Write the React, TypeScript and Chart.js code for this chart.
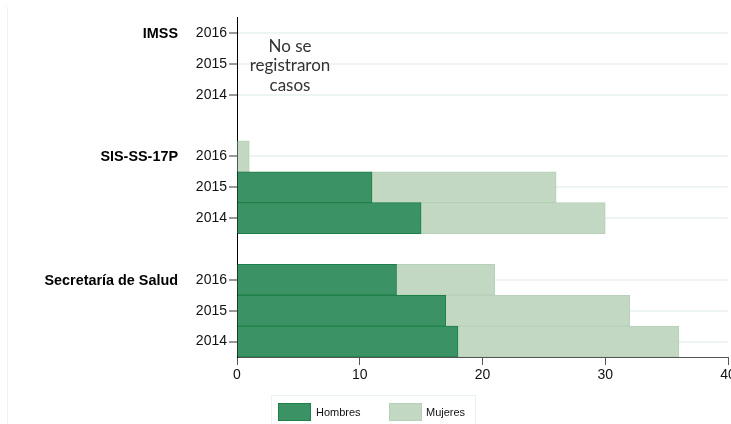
import React, { useEffect, useRef } from "react";
import { Chart, registerables } from "chart.js";

Chart.register(...registerables);

const institutions = ["IMSS", "SIS-SS-17P", "Secretaría de Salud"];
const years = ["2016", "2015", "2014"];
// values per institution, in order of years (2016, 2015, 2014)
const hombres = [
  [null, null, null],
  [0, 11, 15],
  [13, 17, 18],
];
const mujeres = [
  [null, null, null],
  [1, 15, 15],
  [8, 15, 18],
];
const xTicks = [0, 10, 20, 30, 40];
const noDataNote = ["No se", "registraron", "casos"];

const FONT = "'Liberation Sans', Arial, sans-serif";

export default function App() {
  const ref = useRef<HTMLCanvasElement>(null);

  useEffect(() => {
    const labels: string[] = [];
    const groupOf: (number | null)[] = [];
    const h: (number | null)[] = [];
    const m: (number | null)[] = [];
    institutions.forEach((inst, i) => {
      years.forEach((y, j) => {
        labels.push(y);
        groupOf.push(j === 0 ? i : null);
        h.push(hombres[i][j]);
        m.push(mujeres[i][j]);
      });
      if (i < institutions.length - 1) {
        labels.push("");
        groupOf.push(null);
        h.push(null);
        m.push(null);
      }
    });

    const overlay = {
      id: "overlay",
      afterDraw(chart: any) {
        const ctx = chart.ctx;
        const yScale = chart.scales.y;
        const area = chart.chartArea;
        ctx.save();
        // faint frame line
        ctx.strokeStyle = "#f0f0f0";
        ctx.lineWidth = 1;
        ctx.beginPath();
        ctx.moveTo(7.5, 7);
        ctx.lineTo(7.5, 424);
        ctx.stroke();
        // group labels
        ctx.fillStyle = "#000";
        ctx.font = `bold 14.4px ${FONT}`;
        ctx.textAlign = "right";
        ctx.textBaseline = "middle";
        groupOf.forEach((g, idx) => {
          if (g !== null) {
            ctx.fillText(institutions[g], 178, yScale.getPixelForValue(idx) + 1);
          }
        });
        // no-data note
        ctx.fillStyle = "#333";
        ctx.font = `17px Lato, 'Open Sans', sans-serif`;
        ctx.textAlign = "center";
        const cy = yScale.getPixelForValue(1);
        noDataNote.forEach((t, k) => {
          ctx.fillText(t, area.left + 53, cy + (k - 1) * 19.5 + 2);
        });
        // legend
        const ds = chart.data.datasets;
        ctx.strokeStyle = "#eaf1f2";
        ctx.lineWidth = 1;
        ctx.strokeRect(271.5, 395.5, 204, 40);
        const items = [
          { x: 278, tx: 316 },
          { x: 389, tx: 426 },
        ];
        ds.forEach((d: any, k: number) => {
          const it = items[k];
          ctx.fillStyle = d.backgroundColor;
          ctx.fillRect(it.x, 403, 33, 18);
          ctx.strokeStyle = d.borderColor;
          ctx.strokeRect(it.x + 0.5, 403.5, 32, 17);
          ctx.fillStyle = "#111";
          ctx.font = `11px ${FONT}`;
          ctx.textAlign = "left";
          ctx.textBaseline = "middle";
          ctx.fillText(d.label, it.tx, 413);
        });
        ctx.restore();
      },
    };

    const chart = new Chart(ref.current!, {
      type: "bar",
      data: {
        labels,
        datasets: [
          {
            label: "Hombres",
            data: h,
            backgroundColor: "#3b9264",
            borderColor: "#1f7f48",
            borderWidth: 1,
            barPercentage: 1,
            categoryPercentage: 1,
          },
          {
            label: "Mujeres",
            data: m,
            backgroundColor: "#c2d8c3",
            borderColor: "#b6d0b9",
            borderWidth: 1,
            barPercentage: 1,
            categoryPercentage: 1,
          },
        ],
      },
      options: {
        indexAxis: "y",
        responsive: false,
        animation: false,
        devicePixelRatio: 1,
        layout: { padding: { top: 17.5, right: 12, bottom: 0, left: 0 } },
        plugins: {
          legend: { display: false },
          tooltip: { enabled: false },
        },
        scales: {
          x: {
            stacked: true,
            min: 0,
            max: 40,
            afterBuildTicks: (scale: any) => {
              scale.ticks = xTicks.map((v) => ({ value: v }));
            },
            afterFit: (scale: any) => {
              scale.height = 67;
            },
            border: { display: true, color: "#555", width: 1 },
            grid: {
              drawOnChartArea: false,
              drawTicks: true,
              tickLength: 8,
              tickColor: "#555",
              tickWidth: 1,
            },
            ticks: {
              font: { family: FONT, size: 14 },
              color: "#111",
              padding: 2,
              maxRotation: 0,
            },
          },
          y: {
            stacked: true,
            offset: true,
            afterFit: (scale: any) => {
              scale.width = 237;
            },
            border: { display: true, color: "#000", width: 1 },
            grid: {
              offset: false,
              lineWidth: 2,
              color: (c: any) =>
                c.tick && c.tick.label ? "#eef3f4" : "rgba(0,0,0,0)",
              tickColor: (c: any) =>
                c.tick && c.tick.label ? "#333" : "rgba(0,0,0,0)",
              tickLength: 8,
              tickWidth: 1,
            },
            ticks: {
              autoSkip: false,
              font: { family: FONT, size: 14 },
              color: "#111",
              padding: 2,
            },
          },
        },
      },
      plugins: [overlay],
    } as any);

    return () => chart.destroy();
  }, []);

  return (
    <div
      style={{
        position: "fixed",
        left: 0,
        top: 0,
        width: 731,
        height: 424,
        overflow: "hidden",
        background: "#fff",
      }}
    >
      <canvas ref={ref} width={740} height={424} style={{ display: "block" }} />
    </div>
  );
}
